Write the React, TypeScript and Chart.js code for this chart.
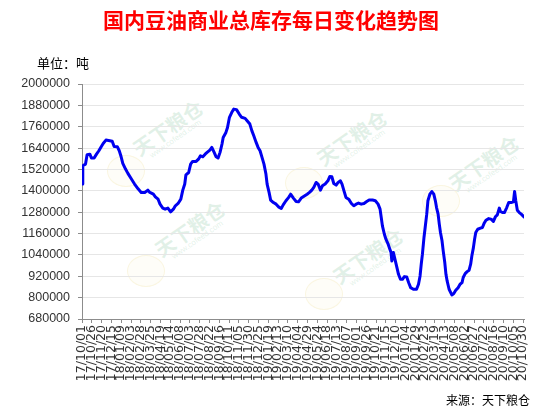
import React, { useEffect, useRef } from "react";
import { Chart, registerables } from "chart.js";

Chart.register(...registerables);

const chartTitle = "国内豆油商业总库存每日变化趋势图";
const unitLabel = "单位：吨";
const sourceLabel = "来源：天下粮仓";
const seriesName = "国内豆油商业总库存";

// x-axis tick labels (every 25 days from 2017/10/01)
const tickLabels = [
  "17/10/01", "17/10/26", "17/11/20", "17/12/15", "18/01/09", "18/02/03", "18/02/28", "18/03/25",
  "18/04/19", "18/05/14", "18/06/08", "18/07/03", "18/07/28", "18/08/22", "18/09/16", "18/10/11",
  "18/11/05", "18/11/30", "18/12/25", "19/01/19", "19/02/13", "19/03/10", "19/04/04", "19/04/29",
  "19/05/24", "19/06/18", "19/07/13", "19/08/07", "19/09/01", "19/09/26", "19/10/21", "19/11/15",
  "19/12/10", "20/01/04", "20/01/29", "20/02/23", "20/03/19", "20/04/13", "20/05/08", "20/06/02",
  "20/06/27", "20/07/22", "20/08/16", "20/09/10", "20/10/05", "20/10/30",
];
const tickStepDays = 25;
const lastDay = 1127;

// days since 2017/10/01
const dayOffsets = [
  0, 2, 9, 13, 20, 24, 31, 37, 43, 49, 54, 61, 71, 77, 82, 90, 95, 99, 104, 111, 117, 126, 134, 143,
  151, 160, 168, 173, 182, 187, 194, 199, 206, 212, 219, 226, 233, 238, 245, 252, 257, 262, 265, 272,
  277, 282, 291, 297, 302, 308, 314, 319, 326, 331, 337, 342, 347, 352, 357, 360, 367, 371, 376, 382,
  387, 394, 401, 407, 416, 421, 428, 433, 438, 444, 449, 454, 459, 464, 469, 472, 477, 481, 488, 495,
  501, 508, 513, 520, 527, 532, 539, 546, 552, 559, 568, 574, 580, 586, 591, 597, 602, 608, 613, 620,
  627, 632, 637, 642, 648, 653, 659, 663, 668, 673, 680, 687, 693, 699, 705, 712, 719, 726, 732, 741,
  748, 755, 760, 763, 766, 771, 775, 780, 785, 788, 790, 794, 797, 802, 807, 812, 817, 822, 828, 833,
  838, 845, 853, 858, 862, 865, 868, 872, 875, 879, 882, 887, 892, 897, 901, 904, 908, 911, 914, 918,
  921, 925, 928, 931, 936, 943, 948, 953, 959, 964, 969, 972, 977, 982, 987, 991, 994, 998, 1001, 1004,
  1009, 1016, 1021, 1025, 1030, 1037, 1043, 1049, 1054, 1059, 1064, 1067, 1072, 1077, 1083, 1088, 1094,
  1100, 1103, 1106, 1110, 1115, 1120, 1127,
];

// inventory, tonnes
const inventory = [
  1438000, 1541000, 1550000, 1603000, 1606000, 1584000, 1584000, 1606000, 1625000, 1648000, 1666000, 1685000,
  1681000, 1678000, 1649000, 1648000, 1625000, 1597000, 1554000, 1522000, 1498000, 1466000, 1438000, 1411000,
  1391000, 1391000, 1404000, 1391000, 1381000, 1366000, 1353000, 1325000, 1303000, 1297000, 1303000, 1282000,
  1297000, 1316000, 1329000, 1353000, 1404000, 1438000, 1490000, 1503000, 1550000, 1565000, 1565000, 1578000,
  1597000, 1591000, 1606000, 1616000, 1629000, 1644000, 1616000, 1591000, 1584000, 1616000, 1663000, 1700000,
  1728000, 1756000, 1813000, 1841000, 1859000, 1856000, 1831000, 1813000, 1807000, 1794000, 1775000, 1738000,
  1709000, 1672000, 1644000, 1625000, 1588000, 1550000, 1494000, 1438000, 1391000, 1348000, 1334000, 1325000,
  1310000, 1301000, 1321000, 1344000, 1363000, 1381000, 1359000, 1340000, 1338000, 1359000, 1372000, 1381000,
  1391000, 1404000, 1419000, 1447000, 1438000, 1404000, 1428000, 1438000, 1456000, 1481000, 1479000, 1441000,
  1432000, 1447000, 1456000, 1438000, 1400000, 1363000, 1353000, 1329000, 1316000, 1325000, 1331000, 1325000,
  1329000, 1340000, 1348000, 1348000, 1344000, 1325000, 1297000, 1250000, 1203000, 1156000, 1128000, 1104000,
  1072000, 1053000, 1006000, 1053000, 1025000, 978000, 931000, 903000, 903000, 918000, 916000, 884000,
  856000, 847000, 847000, 875000, 922000, 988000, 1044000, 1138000, 1194000, 1269000, 1344000, 1381000,
  1396000, 1381000, 1344000, 1306000, 1269000, 1213000, 1166000, 1119000, 1063000, 997000, 931000, 894000,
  847000, 815000, 823000, 841000, 856000, 875000, 884000, 913000, 935000, 946000, 954000, 988000,
  1034000, 1081000, 1128000, 1166000, 1184000, 1190000, 1194000, 1216000, 1235000, 1244000, 1241000, 1228000,
  1254000, 1265000, 1303000, 1284000, 1278000, 1278000, 1306000, 1334000, 1334000, 1338000, 1396000, 1344000,
  1291000, 1278000, 1269000, 1254000,
];

const yMin = 680000;
const yMax = 2000000;
const yStep = 120000;

const watermarkText = "天下粮仓";
const watermarkUrl = "www.cofeed.com";

export default function App() {
  const canvasRef = useRef<HTMLCanvasElement | null>(null);

  useEffect(() => {
    const canvas = canvasRef.current;
    if (!canvas) return;
    const points = dayOffsets.map((d, i) => ({ x: d, y: inventory[i] }));
    const chart = new Chart(canvas, {
      type: "line",
      data: {
        datasets: [
          {
            label: seriesName,
            data: points,
            borderColor: "#0000f0",
            borderWidth: 3,
            pointRadius: 0,
            tension: 0,
            borderJoinStyle: "round",
            borderCapStyle: "round",
            fill: false,
          },
        ],
      },
      options: {
        animation: false,
        responsive: false,
        maintainAspectRatio: false,
        layout: { padding: { top: 84, right: 18, left: 0, bottom: 0 } },
        plugins: {
          legend: { display: false },
          tooltip: { enabled: false },
          title: { display: false },
        },
        scales: {
          x: {
            type: "linear",
            min: 0,
            max: lastDay,
            afterBuildTicks: (scale: any) => {
              scale.ticks = tickLabels.map((_, i) => ({ value: i * tickStepDays }));
            },
            afterFit: (scale: any) => {
              scale.height = 93;
            },
            ticks: {
              autoSkip: false,
              maxRotation: 90,
              minRotation: 90,
              padding: 2,
              color: "#333333",
              font: { family: "'DejaVu Sans'", size: 12.5 },
              callback: (_v: any, index: number) => tickLabels[index],
            },
            grid: {
              drawOnChartArea: false,
              drawTicks: true,
              tickLength: 4,
              tickColor: "#8c8c8c",
            },
            border: { display: true, color: "#8c8c8c", width: 1 },
          },
          y: {
            min: yMin,
            max: yMax,
            afterBuildTicks: (scale: any) => {
              const t = [];
              for (let v = yMin; v <= yMax; v += yStep) t.push({ value: v });
              scale.ticks = t;
            },
            afterFit: (scale: any) => {
              scale.width = 82;
            },
            ticks: {
              padding: 8,
              color: "#333333",
              font: { family: "'Liberation Sans', Arial, sans-serif", size: 12.5 },
              callback: (v: any) => String(v),
            },
            grid: {
              color: "#e6e6e6",
              tickColor: "#8c8c8c",
              tickLength: 4,
              lineWidth: 1,
            },
            border: { display: true, color: "#8c8c8c", width: 1 },
          },
        },
      },
    });
    return () => chart.destroy();
  }, []);

  const wmPairs = [
    { tx: 170, ty: 137, lx: 125, ly: 170 },
    { tx: 192, ty: 238, lx: 145, ly: 270 },
    { tx: 354, ty: 147, lx: 303, ly: 182 },
    { tx: 486, ty: 172, lx: 440, ly: 200 },
    { tx: 370, ty: 265, lx: 323, ly: 293 },
  ];

  return (
    <div
      style={{
        position: "fixed",
        left: 0,
        top: 0,
        width: 542,
        height: 412,
        background: "#ffffff",
        overflow: "hidden",
        fontFamily: "'Noto Sans CJK SC', sans-serif",
      }}
    >
      {wmPairs.map((w, i) => (
        <React.Fragment key={i}>
          <div
            style={{
              position: "absolute",
              left: w.lx - 18,
              top: w.ly - 15,
              width: 36,
              height: 30,
              borderRadius: "50%",
              border: "1.5px solid rgba(235, 220, 140, 0.22)",
              background: "rgba(250, 242, 200, 0.12)",
            }}
          />
          <div
            style={{
              position: "absolute",
              left: w.tx - 50,
              top: w.ty - 20,
              width: 100,
              textAlign: "center",
              transform: "rotate(-35deg)",
              color: "rgba(150, 205, 170, 0.28)",
              lineHeight: 1,
            }}
          >
            <div style={{ fontSize: 20, fontWeight: 700 }}>{watermarkText}</div>
            <div style={{ fontSize: 8, fontFamily: "'Liberation Sans', sans-serif" }}>{watermarkUrl}</div>
          </div>
        </React.Fragment>
      ))}
      <canvas
        ref={canvasRef}
        width={542}
        height={412}
        style={{ position: "absolute", left: 0, top: 0, width: 542, height: 412 }}
      />
      <div
        style={{
          position: "absolute",
          left: 0,
          top: 7,
          width: 542,
          textAlign: "center",
          color: "#ff0000",
          fontSize: 21,
          fontWeight: 700,
          lineHeight: "24px",
          whiteSpace: "nowrap",
        }}
      >
        {chartTitle}
      </div>
      <div
        style={{
          position: "absolute",
          left: 37,
          top: 54,
          color: "#000000",
          fontSize: 13,
          lineHeight: "18px",
          whiteSpace: "nowrap",
        }}
      >
        {unitLabel}
      </div>
      <div
        style={{
          position: "absolute",
          left: 446,
          top: 392,
          color: "#000000",
          fontSize: 12,
          lineHeight: "16px",
          whiteSpace: "nowrap",
        }}
      >
        {sourceLabel}
      </div>
    </div>
  );
}
